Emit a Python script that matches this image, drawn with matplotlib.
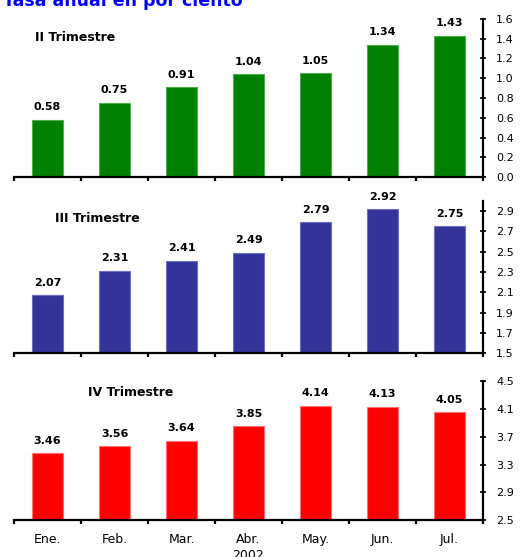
import matplotlib
matplotlib.use("Agg")
import matplotlib.pyplot as plt
import numpy as np

plt.rcParams['font.family'] = ['DejaVu Sans']

meses = ["Ene.", "Feb.", "Mar.", "Abr.", "May.", "Jun.", "Jul."]
ii_trim = [0.58, 0.75, 0.91, 1.04, 1.05, 1.34, 1.43]
iii_trim = [2.07, 2.31, 2.41, 2.49, 2.79, 2.92, 2.75]
iv_trim = [3.46, 3.56, 3.64, 3.85, 4.14, 4.13, 4.05]

paneles = [
    # titulo, valores, color, borde, ylim, yticks
    ("II Trimestre", ii_trim, "#008000", "#4caf4c", (0.0, 1.6), np.arange(0.0, 1.61, 0.2)),
    ("III Trimestre", iii_trim, "#333399", "#6f6fbf", (1.5, 3.0), np.arange(1.5, 2.91, 0.2)),
    ("IV Trimestre", iv_trim, "#ff0000", "#ff7070", (2.5, 4.5), np.arange(2.5, 4.51, 0.4)),
]

# posiciones de los ejes en fraccion de figura
rects = [
    [0.027, 0.682, 0.902, 0.284],
    [0.027, 0.366, 0.902, 0.273],
    [0.027, 0.066, 0.902, 0.250],
]
titulo_pos = [(0.045, 0.88), (0.087, 0.888), (0.158, 0.92)]

fig = plt.figure(figsize=(5.2, 5.57), dpi=100)
fig.text(0.006, 0.999, "Tasa anual en por ciento", color="#0000ff",
         fontsize=12.5, fontweight="bold", va="center", ha="left")

x = np.arange(len(meses))
for i, (tit, vals, col, borde, ylim, yt) in enumerate(paneles):
    ax = fig.add_axes(rects[i])
    bars = ax.bar(x, [v - ylim[0] for v in vals], bottom=ylim[0], width=0.46,
                  color=col, edgecolor=borde, linewidth=0.8)
    for b, v in zip(bars, vals):
        ax.annotate("%.2f" % v, (b.get_x() + b.get_width() / 2, v),
                    xytext=(0, 5.5), textcoords="offset points",
                    ha="center", va="bottom", fontsize=8, fontweight="bold")
    ax.set_xlim(-0.5, len(meses) - 0.5)
    ax.set_ylim(*ylim)
    ax.set_yticks(yt)
    ax.set_yticklabels(["%.1f" % t for t in yt])
    ax.yaxis.tick_right()
    ax.tick_params(axis="y", direction="inout", length=5, width=1.2,
                   labelsize=8, pad=7)
    for s in ["top", "left"]:
        ax.spines[s].set_visible(False)
    for s in ["right", "bottom"]:
        ax.spines[s].set_linewidth(1.6)
    ax.set_xticks(np.arange(-0.5, len(meses), 1.0))
    ax.set_xticklabels([])
    ax.set_xticks(x, minor=True)
    ax.tick_params(axis="x", which="major", direction="out", length=3, width=1.6)
    ax.tick_params(axis="x", which="minor", length=0, labelsize=9, pad=9)
    if i == 2:
        ax.set_xticklabels(meses, minor=True)
    ax.text(titulo_pos[i][0], titulo_pos[i][1], tit, transform=ax.transAxes,
            fontsize=9, fontweight="bold", ha="left", va="center")

fig.text(0.477, 0.002, "2002", fontsize=9, ha="center", va="center")

fig.savefig("out.png", dpi=100)
